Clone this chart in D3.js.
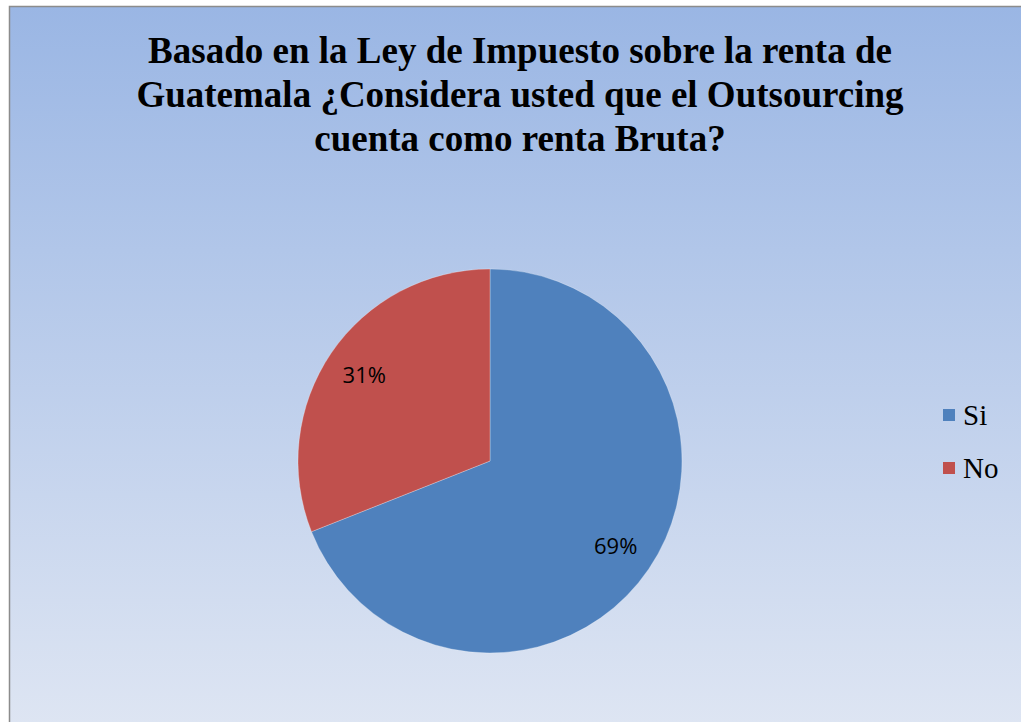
<!DOCTYPE html>
<html>
<head>
<meta charset="utf-8">
<script src="https://cdn.jsdelivr.net/npm/d3@7"></script>
<style>
  html, body { margin: 0; padding: 0; background: #fff; }
  svg { display: block; }
</style>
</head>
<body>
<div id="chart"></div>
<script>
// Survey answer split, single pie with side legend.
const categories = ['Si', 'No'];
const values = [69, 31];
const labels = ['69%', '31%'];
const colors = ['#4f81bd', '#c0504d'];
const titleLines = [
  'Basado en la Ley de Impuesto sobre la renta de',
  'Guatemala ¿Considera usted que el Outsourcing',
  'cuenta como renta Bruta?'
];

const W = 1021, H = 722;
const svg = d3.select('#chart').append('svg').attr('width', W).attr('height', H);

// chart area background gradient
const grad = svg.append('defs').append('linearGradient')
  .attr('id', 'bg').attr('x1', 0).attr('y1', 0).attr('x2', 0).attr('y2', 1);
grad.append('stop').attr('offset', '0%').attr('stop-color', '#9ab6e4');
grad.append('stop').attr('offset', '100%').attr('stop-color', '#dfe6f3');

svg.append('rect')
  .attr('x', 9.5).attr('y', 6.5).attr('width', W + 10).attr('height', H + 10)
  .attr('fill', 'url(#bg)').attr('stroke', '#8c8c8c').attr('stroke-width', 1.5);

// title
svg.append('g').selectAll('text').data(titleLines).join('text')
  .attr('x', 520).attr('y', (d, i) => 63 + i * 44)
  .attr('text-anchor', 'middle')
  .style('font-family', '"Liberation Serif", "Times New Roman", serif')
  .style('font-weight', 'bold').style('font-size', '37px').style('fill', '#000')
  .text((d) => d);

// pie
const cx = 490, cy = 461, R = 192;
const data = categories.map((c, i) => ({ cat: c, value: values[i], label: labels[i], color: colors[i] }));
const pie = d3.pie().sort(null).value((d) => d.value);
const arc = d3.arc().innerRadius(0).outerRadius(R);
const labelArc = d3.arc().innerRadius(152).outerRadius(152);

const g = svg.append('g').attr('transform', `translate(${cx},${cy})`);
const arcs = pie(data);
g.selectAll('path').data(arcs).join('path')
  .attr('d', arc)
  .attr('fill', (d) => d.data.color)
  .attr('stroke', 'rgba(255,255,255,0.35)').attr('stroke-width', 0.8);

g.selectAll('text').data(arcs).join('text')
  .attr('transform', (d) => `translate(${labelArc.centroid(d)})`)
  .attr('text-anchor', 'middle').attr('dy', '0.35em')
  .style('font-family', '"Open Sans", "Liberation Sans", sans-serif')
  .style('font-size', '22px').style('fill', '#000')
  .text((d) => d.data.label);

// legend
const leg = svg.append('g').attr('transform', 'translate(943,415)');
const item = leg.selectAll('g').data(data).join('g')
  .attr('transform', (d, i) => `translate(0,${i * 53})`);
item.append('rect').attr('x', 0).attr('y', -6).attr('width', 12).attr('height', 12)
  .attr('fill', (d) => d.color);
item.append('text').attr('x', 20).attr('y', 0).attr('dy', '0.35em')
  .style('font-family', '"Liberation Serif", "Times New Roman", serif')
  .style('font-size', '29px').style('fill', '#000')
  .text((d) => d.cat);
</script>
</body>
</html>
